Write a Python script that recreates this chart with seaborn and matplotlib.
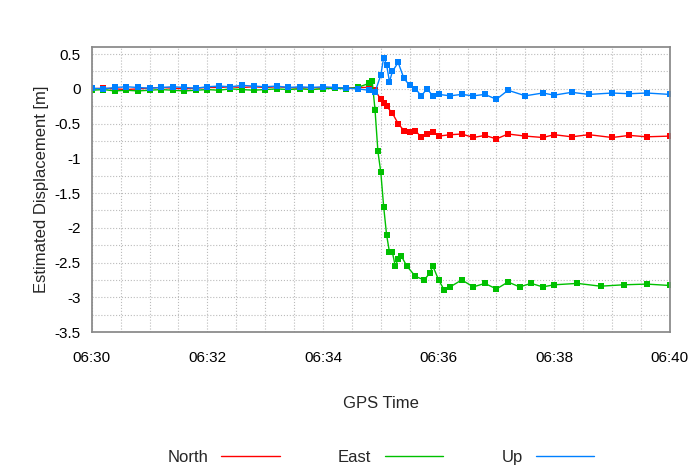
import matplotlib
matplotlib.use("Agg")
import matplotlib.pyplot as plt
import seaborn as sns
import pandas as pd
from matplotlib.ticker import MultipleLocator, FixedLocator
from matplotlib.lines import Line2D

sns.set_theme(style='white')
plt.rcParams['font.family'] = ['Liberation Sans', 'DejaVu Sans']

# minutes after 06:30
pre_t = [0.0, 0.2, 0.4, 0.6, 0.8, 1.0, 1.2, 1.4, 1.6, 1.8, 2.0, 2.2, 2.4, 2.6, 2.8,
         3.0, 3.2, 3.4, 3.6, 3.8, 4.0, 4.2, 4.4, 4.6, 4.8]
north_pre = [0.0, 0.01, 0.0, -0.01, 0.0, 0.01, 0.02, 0.01, 0.0, 0.01, 0.02, 0.02, 0.03, 0.02, 0.03,
             0.02, 0.03, 0.02, 0.01, 0.02, 0.01, 0.02, 0.01, 0.02, 0.02]
east_pre = [-0.02, -0.01, -0.03, -0.02, -0.03, -0.02, -0.01, -0.02, -0.03, -0.02, -0.01, -0.02, 0.0, -0.01, -0.02,
            -0.01, 0.0, -0.01, 0.0, -0.01, 0.0, 0.01, 0.0, 0.02, 0.08]
up_pre = [0.01, 0.0, 0.02, 0.03, 0.02, 0.01, 0.02, 0.03, 0.02, 0.01, 0.03, 0.04, 0.03, 0.05, 0.04,
          0.03, 0.04, 0.02, 0.03, 0.02, 0.03, 0.02, 0.01, 0.0, -0.02]

north_t = [4.9, 5.0, 5.05, 5.1, 5.2, 5.3, 5.4, 5.5, 5.6, 5.7, 5.8, 5.9, 6.0, 6.2, 6.4, 6.6, 6.8,
           7.0, 7.2, 7.5, 7.8, 8.0, 8.3, 8.6, 9.0, 9.3, 9.6, 10.0]
north_post = [-0.02, -0.15, -0.2, -0.25, -0.35, -0.5, -0.6, -0.62, -0.6, -0.7, -0.65, -0.62, -0.68,
              -0.66, -0.65, -0.7, -0.67, -0.72, -0.65, -0.68, -0.7, -0.66, -0.69, -0.66, -0.7, -0.67, -0.69, -0.68]

east_t = [4.85, 4.9, 4.95, 5.0, 5.05, 5.1, 5.15, 5.2, 5.25, 5.3, 5.35, 5.45, 5.6, 5.75, 5.85, 5.9,
          6.0, 6.1, 6.2, 6.4, 6.6, 6.8, 7.0, 7.2, 7.4, 7.6, 7.8, 8.0, 8.4, 8.8, 9.2, 9.6, 10.0]
east_post = [0.12, -0.3, -0.9, -1.2, -1.7, -2.1, -2.35, -2.35, -2.55, -2.45, -2.4, -2.55, -2.7, -2.75,
             -2.65, -2.55, -2.75, -2.9, -2.85, -2.75, -2.85, -2.8, -2.88, -2.78, -2.85, -2.8, -2.85,
             -2.82, -2.8, -2.84, -2.82, -2.81, -2.83]

up_t = [4.9, 5.0, 5.05, 5.1, 5.15, 5.2, 5.3, 5.4, 5.5, 5.6, 5.7, 5.8, 5.9, 6.0, 6.2, 6.4, 6.6,
        6.8, 7.0, 7.2, 7.5, 7.8, 8.0, 8.3, 8.6, 9.0, 9.3, 9.6, 10.0]
up_post = [-0.05, 0.2, 0.45, 0.35, 0.1, 0.25, 0.38, 0.15, 0.05, 0.0, -0.1, 0.0, -0.1, -0.08, -0.1,
           -0.08, -0.1, -0.08, -0.15, -0.02, -0.1, -0.06, -0.09, -0.05, -0.08, -0.06, -0.07, -0.06, -0.08]

frames = []
for name, t, v in [('North', pre_t + north_t, north_pre + north_post),
                   ('East', pre_t + east_t, east_pre + east_post),
                   ('Up', pre_t + up_t, up_pre + up_post)]:
    frames.append(pd.DataFrame({'t': t, 'v': v, 'series': name}))
df = pd.concat(frames)

colors = {'North': '#ff0000', 'East': '#00c000', 'Up': '#0080ff'}

fig = plt.figure(figsize=(7, 4.67), dpi=100)
ax = fig.add_axes([0.131, 0.289, 0.826, 0.61])
for name in ['North', 'East', 'Up']:
    sub = df[df.series == name]
    sns.lineplot(data=sub, x='t', y='v', ax=ax, color=colors[name], linewidth=1,
                 marker='s', markersize=4, markeredgewidth=0,
                 errorbar=None, sort=False)

ax.set_xlim(0, 10)
ax.set_ylim(-3.5, 0.6)
ax.xaxis.set_major_locator(FixedLocator([0, 2, 4, 6, 8, 10]))
ax.set_xticklabels(['06:30', '06:32', '06:34', '06:36', '06:38', '06:40'])
ax.xaxis.set_minor_locator(MultipleLocator(0.5))
ax.yaxis.set_minor_locator(MultipleLocator(0.25))
ax.set_yticks([0.5, 0, -0.5, -1, -1.5, -2, -2.5, -3, -3.5])
ax.set_yticklabels(['0.5', '0', '-0.5', '-1', '-1.5', '-2', '-2.5', '-3', '-3.5'])
ax.grid(which='both', color='#bbbbbb', linestyle=':', linewidth=0.8)
ax.tick_params(axis='x', labelsize=11, colors='black', length=0, pad=14)
ax.tick_params(axis='y', labelsize=11, colors='black', length=0, pad=8)
for s in ax.spines.values():
    s.set_color('#888888')
ax.set_xlabel('GPS Time', fontsize=12, labelpad=22)
ax.set_ylabel('Estimated Displacement [m]', fontsize=12)

h = [Line2D([], [], color=colors[n], linewidth=1) for n in ['North', 'East', 'Up']]
ax.legend(h, ['North', 'East', 'Up'], loc='upper center', bbox_to_anchor=(0.5, -0.36),
          ncol=3, frameon=False, markerfirst=False, fontsize=12, handlelength=3.5,
          columnspacing=3.5)

fig.savefig('out.png', dpi=100)
